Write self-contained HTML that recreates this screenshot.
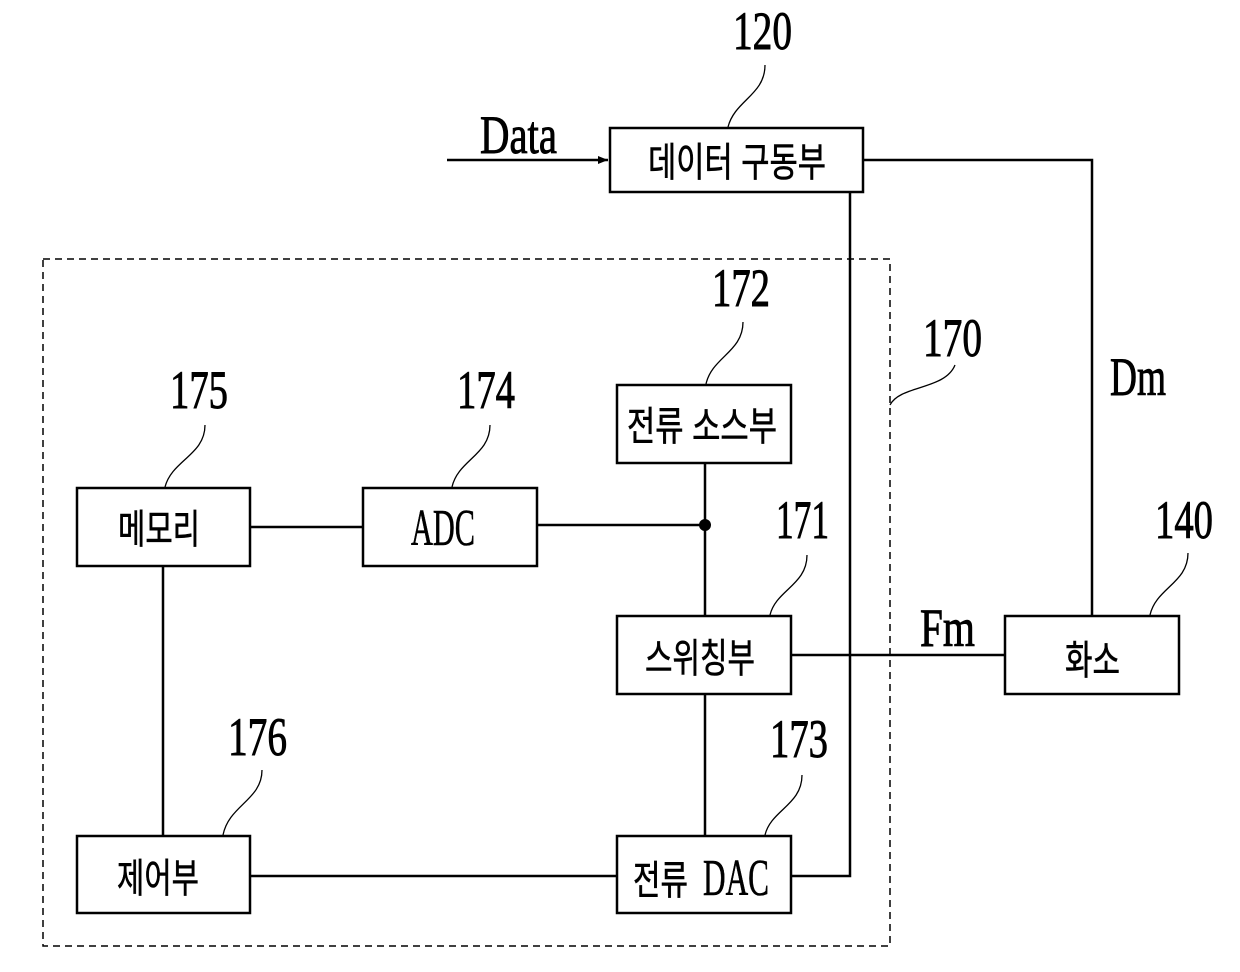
<!DOCTYPE html>
<html><head><meta charset="utf-8"><style>html,body{margin:0;padding:0;background:#fff}svg{display:block}</style></head>
<body>
<svg width="1240" height="972" viewBox="0 0 1240 972" xmlns="http://www.w3.org/2000/svg">
<defs><marker id="ar" markerWidth="10" markerHeight="8" refX="10" refY="4" orient="auto" markerUnits="userSpaceOnUse"><path d="M0,0 L10,4 L0,8 Z" fill="#000"/></marker></defs>
<g fill="none" stroke="#000" stroke-width="2.5">
<rect x="43" y="259" width="847" height="687" stroke-dasharray="7,5" stroke-width="1.5"/>
<rect x="610" y="128" width="253" height="64"/>
<rect x="617" y="385" width="174" height="78"/>
<rect x="77" y="488" width="173" height="78"/>
<rect x="363" y="488" width="174" height="78"/>
<rect x="617" y="616" width="174" height="78"/>
<rect x="1005" y="616" width="174" height="78"/>
<rect x="77" y="836" width="173" height="77"/>
<rect x="617" y="836" width="174" height="77"/>
<path d="M447,160 L608,160" marker-end="url(#ar)"/>
<path d="M863,160 H1092 V616"/>
<path d="M850,192 V876 H791"/>
<path d="M705,463 V616"/>
<path d="M537,525 H705"/>
<path d="M250,527 H363"/>
<path d="M163,566 V836"/>
<path d="M250,876 H617"/>
<path d="M705,694 V836"/>
<path d="M791,655 H1005"/>
<g stroke-width="1.3">
<path d="M765,65 C765,95 735,100 728,127"/>
<path d="M743,322 C743,352 712,357 706,384"/>
<path d="M955,365 C945,390 900,385 890,405"/>
<path d="M205,425 C205,455 172,460 165,487"/>
<path d="M490,425 C490,455 458,460 452,487"/>
<path d="M807,555 C807,585 776,590 770,615"/>
<path d="M1188,553 C1188,583 1156,588 1150,615"/>
<path d="M262,770 C262,800 229,805 223,835"/>
<path d="M802,775 C802,805 771,810 765,835"/>
</g>
</g>
<circle cx="705" cy="525" r="6" fill="#000"/>
<g font-family="Liberation Serif, serif" font-size="54" fill="#000" stroke="#000" stroke-width="0.9">
<text x="733" y="49" textLength="59" lengthAdjust="spacingAndGlyphs">120</text>
<text x="712" y="306" textLength="58" lengthAdjust="spacingAndGlyphs">172</text>
<text x="923" y="356" textLength="59" lengthAdjust="spacingAndGlyphs">170</text>
<text x="170" y="408" textLength="58" lengthAdjust="spacingAndGlyphs">175</text>
<text x="457" y="408" textLength="58" lengthAdjust="spacingAndGlyphs">174</text>
<text x="776" y="538" textLength="53" lengthAdjust="spacingAndGlyphs">171</text>
<text x="1155" y="538" textLength="58" lengthAdjust="spacingAndGlyphs">140</text>
<text x="228" y="755" textLength="59" lengthAdjust="spacingAndGlyphs">176</text>
<text x="770" y="757" textLength="58" lengthAdjust="spacingAndGlyphs">173</text>
<text x="1110" y="395" textLength="56" lengthAdjust="spacingAndGlyphs">Dm</text>
<text x="920" y="646" textLength="55" lengthAdjust="spacingAndGlyphs">Fm</text>
<text x="480" y="153" textLength="77" lengthAdjust="spacingAndGlyphs">Data</text>
</g>
<g font-family="Liberation Sans, 'Noto Sans CJK KR', NanumGothic, sans-serif" font-size="40" fill="#000" stroke="#000" stroke-width="0.6">
<text x="648" y="176" textLength="178" lengthAdjust="spacingAndGlyphs">데이터 구동부</text>
<text x="627" y="440" textLength="150" lengthAdjust="spacingAndGlyphs">전류 소스부</text>
<text x="118" y="543" textLength="82" lengthAdjust="spacingAndGlyphs">메모리</text>
<text x="411" y="545" font-family="Liberation Serif, serif" font-size="52" textLength="64" lengthAdjust="spacingAndGlyphs">ADC</text>
<text x="645" y="672" textLength="110" lengthAdjust="spacingAndGlyphs">스위칭부</text>
<text x="1065" y="674" textLength="55" lengthAdjust="spacingAndGlyphs">화소</text>
<text x="117" y="892" textLength="82" lengthAdjust="spacingAndGlyphs">제어부</text>
<text x="633" y="894" textLength="55" lengthAdjust="spacingAndGlyphs">전류</text>
<text x="703" y="895" font-family="Liberation Serif, serif" font-size="52" textLength="66" lengthAdjust="spacingAndGlyphs">DAC</text>
</g>
</svg>
</body></html>
